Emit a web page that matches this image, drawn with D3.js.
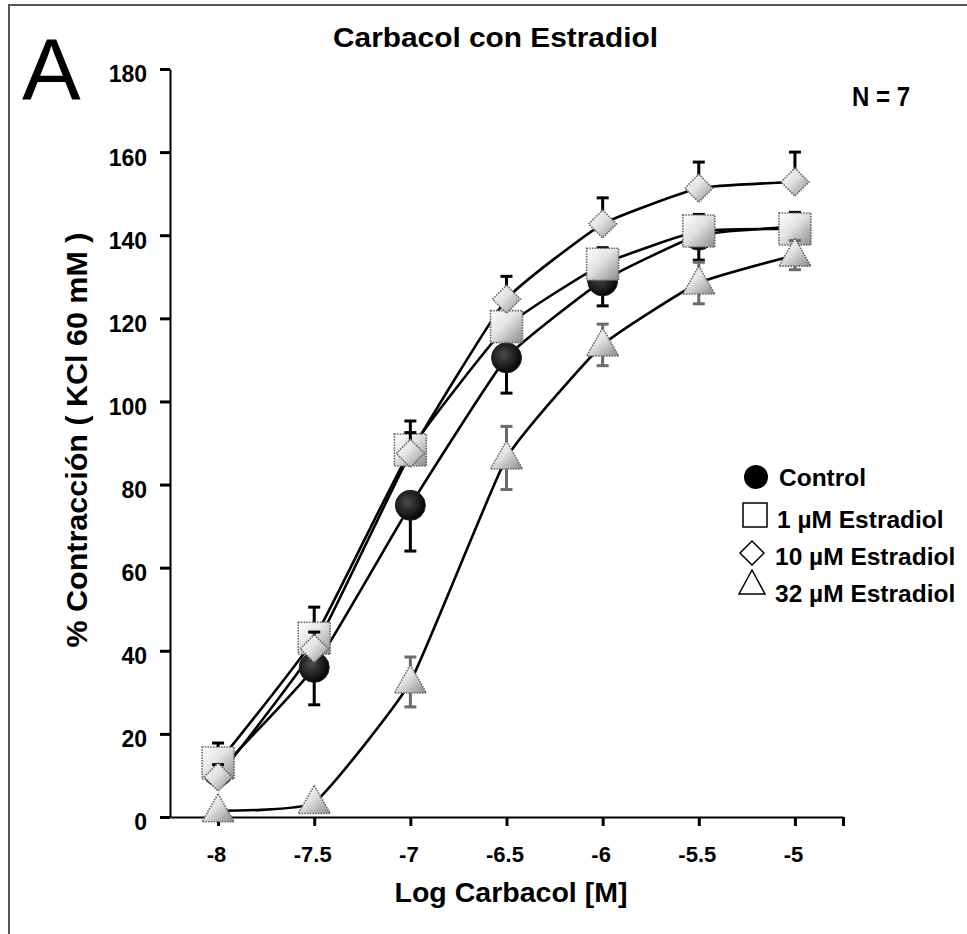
<!DOCTYPE html>
<html>
<head>
<meta charset="utf-8">
<script src="https://cdn.jsdelivr.net/npm/d3@7"></script>
<style>
  html, body { margin: 0; padding: 0; background: #fff; }
  svg { display: block; }
  text { font-family: "Liberation Sans", Arial, sans-serif; }
</style>
</head>
<body>
<svg id="chart" width="967" height="934"></svg>
<script>
// ---- data ----
const doses = [-8, -7.5, -7, -6.5, -6, -5.5, -5];
const xTicks = [-8, -7.5, -7, -6.5, -6, -5.5, -5, -4.75];
const yTicks = [0, 20, 40, 60, 80, 100, 120, 140, 160, 180];

const seriesNames = ["Control", "1 µM Estradiol", "10 µM Estradiol", "32 µM Estradiol"];
const controlVals = [11, 36, 75, 110.5, 129, 140, 142];
const controlSem  = [3, 9, 11, 8.5, 6, 6, 3];
const e1Vals = [13, 43, 88.3, 118, 133, 141, 141.5];
const e1Sem  = [4.8, 7.5, 7, 3, 4, 4, 4];
const e10Vals = [9.6, 40.5, 87.5, 124.6, 142.7, 151.3, 152.8];
const e10Sem  = [3, 4, 5, 5.5, 6.3, 6.3, 7.2];
const e32Vals = [1.5, 3.5, 32.5, 86.4, 113.6, 128.5, 135.2];
const e32Sem  = [1, 1, 6, 7.6, 5, 5, 3.5];

const titleText = "Carbacol con Estradiol";
const xTitle = "Log Carbacol [M]";
const yTitle = "% Contracción ( KCl 60 mM )";

// ---- setup ----
const svg = d3.select("#chart");
const x = d3.scaleLinear().domain([-8.25, -4.75]).range([170, 843]);
const y = d3.scaleLinear().domain([0, 180]).range([817, 69]);

const defs = svg.append("defs");
const lg = defs.append("linearGradient").attr("id", "gGray")
  .attr("x1", "0").attr("y1", "0").attr("x2", "1").attr("y2", "1");
lg.append("stop").attr("offset", "0%").attr("stop-color", "#ffffff");
lg.append("stop").attr("offset", "45%").attr("stop-color", "#e2e2e2");
lg.append("stop").attr("offset", "100%").attr("stop-color", "#8a8a8a");
const rg = defs.append("radialGradient").attr("id", "gBlack")
  .attr("cx", "40%").attr("cy", "40%").attr("r", "60%");
rg.append("stop").attr("offset", "0%").attr("stop-color", "#4a4a4a");
rg.append("stop").attr("offset", "100%").attr("stop-color", "#050505");

// frame
svg.append("rect").attr("x", 9).attr("y", 5).attr("width", 1000).attr("height", 1000)
  .attr("fill", "none").attr("stroke", "#555").attr("stroke-width", 2);

// panel letter
svg.append("text").attr("x", 22).attr("y", 100).attr("font-size", 88)
  .attr("font-weight", "normal").text("A");

// title
svg.append("text").attr("x", 333).attr("y", 47).attr("font-size", 27)
  .attr("font-weight", "bold").attr("textLength", 325).attr("lengthAdjust", "spacingAndGlyphs")
  .text(titleText);

svg.append("text").attr("x", 852).attr("y", 106).attr("font-size", 28)
  .attr("font-weight", "bold").attr("textLength", 58).attr("lengthAdjust", "spacingAndGlyphs")
  .text("N = 7");

// axes
const yAxis = d3.axisLeft(y).tickValues(yTicks).tickSize(10).tickSizeOuter(0)
  .tickFormat(d3.format("d"));
const gy = svg.append("g").attr("transform", "translate(170,0)").call(yAxis);
gy.select(".domain").attr("stroke", "#000").attr("stroke-width", 2);
gy.selectAll(".tick line").attr("stroke", "#000").attr("stroke-width", 3);
gy.selectAll(".tick text").attr("x", -23).attr("dy", "0.56em")
  .attr("font-size", 23).attr("font-weight", "bold").attr("fill", "#000")
  .attr("font-family", "Liberation Sans, Arial, sans-serif");

const xAxis = d3.axisBottom(x).tickValues(xTicks).tickSize(9).tickSizeOuter(0)
  .tickFormat(d => d === -4.75 ? "" : String(d));
const gx = svg.append("g").attr("transform", "translate(0,817)").call(xAxis);
gx.select(".domain").attr("stroke", "#000").attr("stroke-width", 2);
gx.selectAll(".tick line").attr("stroke", "#000").attr("stroke-width", 3);
gx.selectAll(".tick text").attr("y", 45).attr("dy", 0).attr("x", -2)
  .attr("font-size", 22).attr("font-weight", "bold").attr("fill", "#000")
  .attr("font-family", "Liberation Sans, Arial, sans-serif");

// axis titles
svg.append("text").attr("x", 511).attr("y", 902).attr("text-anchor", "middle")
  .attr("font-size", 27).attr("font-weight", "bold")
  .attr("textLength", 233).attr("lengthAdjust", "spacingAndGlyphs").text(xTitle);

svg.append("text").attr("transform", "translate(87,440) rotate(-90)")
  .attr("text-anchor", "middle").attr("font-size", 29).attr("font-weight", "bold")
  .attr("textLength", 415).attr("lengthAdjust", "spacingAndGlyphs").text(yTitle);

// series
const series = [
  { vals: controlVals, sem: controlSem, shape: "circle", up: false, down: true, barColor: "#000" },
  { vals: e1Vals, sem: e1Sem, shape: "square", up: true, down: false, barColor: "#000" },
  { vals: e10Vals, sem: e10Sem, shape: "diamond", up: true, down: false, barColor: "#000" },
  { vals: e32Vals, sem: e32Sem, shape: "triangle", up: true, down: true, barColor: "#6a6a6a" }
];

const line = d3.line().x((d, i) => x(doses[i])).y(d => y(d)).curve(d3.curveCardinal.tension(0.6));

series.forEach(s => {
  svg.append("path").attr("d", line(s.vals)).attr("fill", "none")
    .attr("stroke", "#000").attr("stroke-width", 2.6);
});

function shapePath(shape, cx, cy) {
  if (shape === "square") return `M${cx-16},${cy-16}h32v32h-32z`;
  if (shape === "diamond") return `M${cx},${cy-14}L${cx+14},${cy}L${cx},${cy+14}L${cx-14},${cy}z`;
  if (shape === "triangle") return `M${cx},${cy-17}L${cx+16},${cy+11}L${cx-16},${cy+11}z`;
  return "";
}

series.forEach(s => {
  const g = svg.append("g");
  s.vals.forEach((v, i) => {
    const cx = x(doses[i]);
    const pts = [];
    if (s.up) pts.push(v + s.sem[i]);
    if (s.down) pts.push(v - s.sem[i]);
    pts.forEach(e => {
      g.append("line").attr("x1", cx).attr("x2", cx).attr("y1", y(v)).attr("y2", y(e))
        .attr("stroke", s.barColor).attr("stroke-width", 3);
      g.append("line").attr("x1", cx - 6).attr("x2", cx + 6).attr("y1", y(e)).attr("y2", y(e))
        .attr("stroke", s.barColor).attr("stroke-width", 3);
    });
  });
  s.vals.forEach((v, i) => {
    const cx = x(doses[i]), cy = y(v);
    if (s.shape === "circle") {
      g.append("circle").attr("cx", cx).attr("cy", cy).attr("r", 15)
        .attr("fill", "url(#gBlack)").attr("stroke", "#222").attr("stroke-width", 1);
    } else {
      g.append("path").attr("d", shapePath(s.shape, cx, cy))
        .attr("fill", "url(#gGray)").attr("stroke", "#666").attr("stroke-width", 1.6)
        .attr("stroke-dasharray", "1.5,1.2");
    }
  });
});

// legend
const leg = svg.append("g");
const legRows = [
  { shape: "circle", cx: 756, cy: 477, tx: 779, ty: 486 },
  { shape: "square", cx: 755, cy: 515, tx: 777, ty: 528 },
  { shape: "diamond", cx: 752, cy: 553, tx: 775, ty: 565 },
  { shape: "triangle", cx: 752, cy: 583, tx: 775, ty: 602 }
];
legRows.forEach((r, i) => {
  if (r.shape === "circle") {
    leg.append("circle").attr("cx", r.cx).attr("cy", r.cy).attr("r", 12).attr("fill", "#000");
  } else if (r.shape === "square") {
    leg.append("rect").attr("x", r.cx - 12).attr("y", r.cy - 12).attr("width", 24).attr("height", 24)
      .attr("fill", "#fff").attr("stroke", "#000").attr("stroke-width", 1.5);
  } else if (r.shape === "diamond") {
    leg.append("path").attr("d", `M${r.cx},${r.cy-12}L${r.cx+12},${r.cy}L${r.cx},${r.cy+12}L${r.cx-12},${r.cy}z`)
      .attr("fill", "#fff").attr("stroke", "#000").attr("stroke-width", 1.5);
  } else {
    leg.append("path").attr("d", `M${r.cx},${r.cy-13}L${r.cx+13},${r.cy+11}L${r.cx-13},${r.cy+11}z`)
      .attr("fill", "#fff").attr("stroke", "#000").attr("stroke-width", 1.5);
  }
  leg.append("text").attr("x", r.tx).attr("y", r.ty).attr("font-size", 24.5)
    .attr("font-weight", "bold").text(seriesNames[i]);
});
</script>
</body>
</html>
